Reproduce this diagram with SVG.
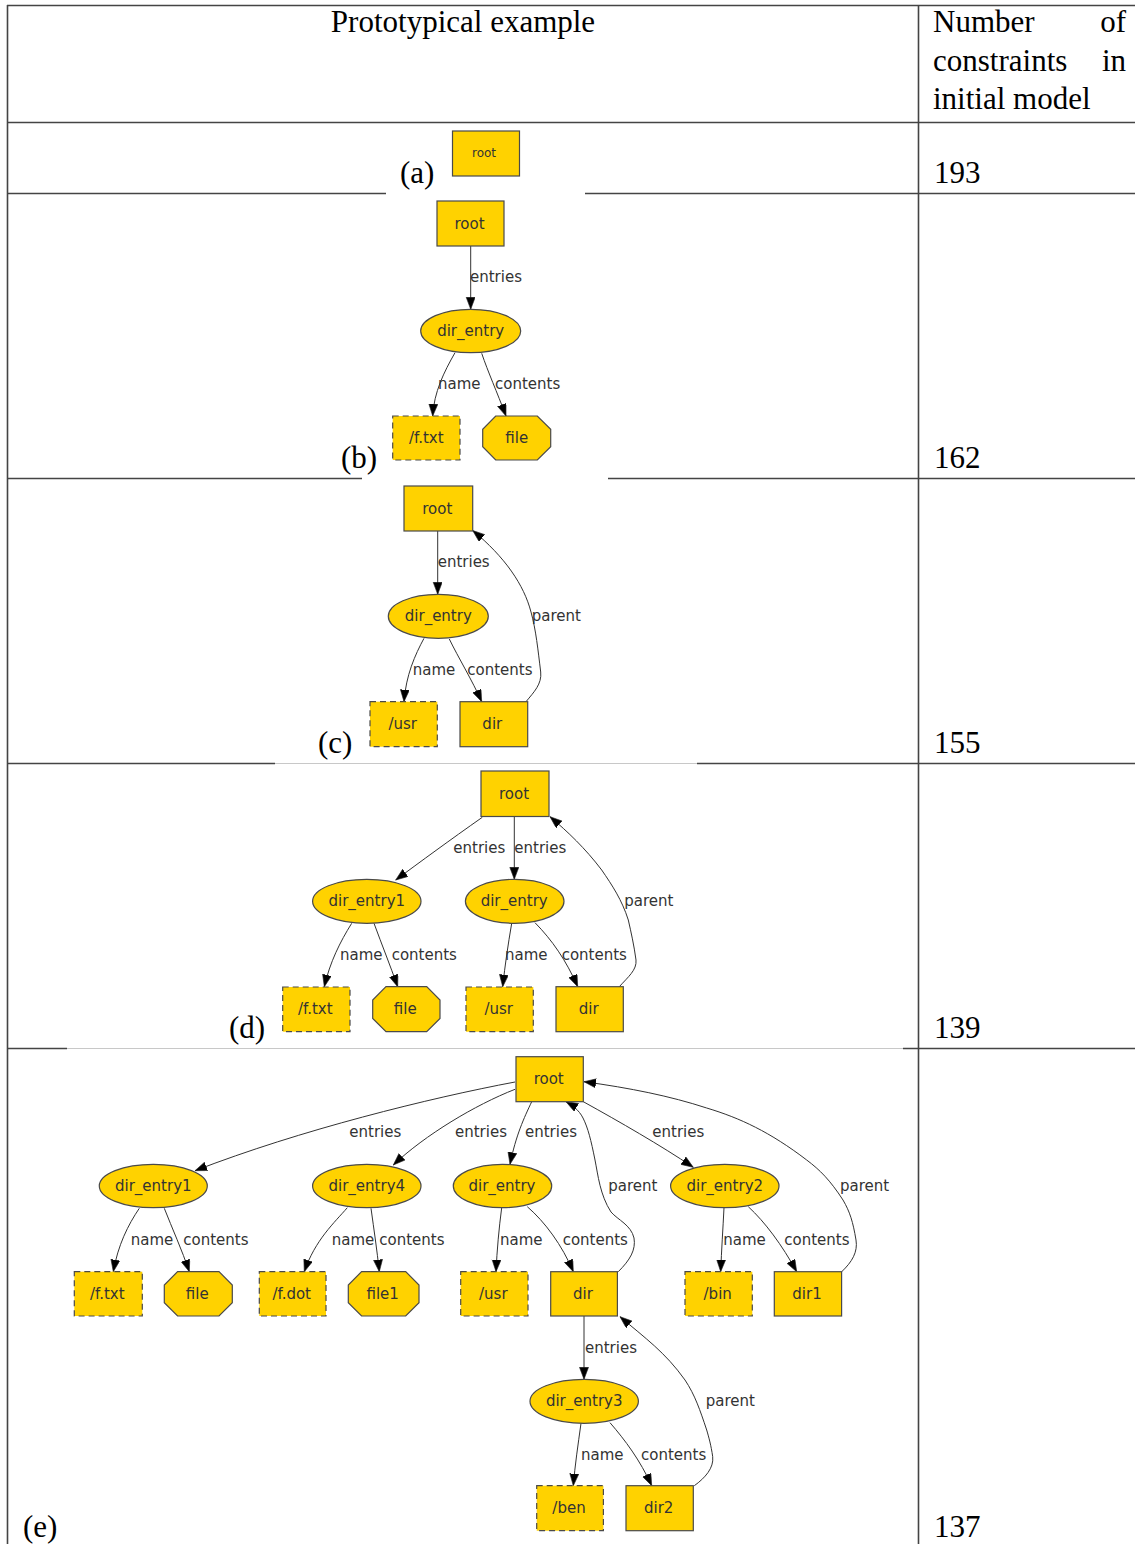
<svg xmlns="http://www.w3.org/2000/svg" width="1135" height="1544" viewBox="0 0 1135 1544">
  <defs>
    <marker id="arrow" markerUnits="userSpaceOnUse" markerWidth="13" markerHeight="10" refX="12" refY="4.5" orient="auto">
      <path d="M0,0 L12,4.5 L0,9 z" fill="#000" stroke="#222" stroke-width="0.6"/>
    </marker>
  </defs>
  <style>
    .grid { stroke: #444; stroke-width: 1.6; fill: none; }
    .faint { stroke: #c8c8c8; stroke-width: 1.2; fill: none; }
    .cell { font-family: "Liberation Serif", "Times New Roman", serif; font-size: 31px; fill: #000; }
    .node rect, .node ellipse, .node polygon { fill: #ffd200; stroke: #4a4a4a; stroke-width: 1.2; }
    .node rect.str { stroke-dasharray: 6 4; }
    .node text { font-family: "DejaVu Sans", sans-serif; font-size: 15px; fill: #333; text-anchor: middle; }
    .edges path { fill: none; stroke: #333; stroke-width: 1; marker-end: url(#arrow); }
    .edges text { font-family: "DejaVu Sans", sans-serif; font-size: 15px; fill: #333; }
  </style>
  <rect width="1135" height="1544" fill="#fff"/>

  <!-- table rules -->
  <g id="table">
    <line class="grid" x1="7" y1="5.5" x2="1135" y2="5.5"/>
    <line class="grid" x1="7" y1="122.5" x2="1135" y2="122.5"/>
    <line class="grid" x1="7" y1="193.5" x2="386" y2="193.5"/>
    <line class="grid" x1="585" y1="193.5" x2="1135" y2="193.5"/>
    <line class="grid" x1="7" y1="478.5" x2="362" y2="478.5"/>
    <line class="grid" x1="608" y1="478.5" x2="1135" y2="478.5"/>
    <line class="grid" x1="7" y1="763.5" x2="275" y2="763.5"/>
    <line class="faint" x1="275" y1="763.5" x2="697" y2="763.5"/>
    <line class="grid" x1="697" y1="763.5" x2="1135" y2="763.5"/>
    <line class="grid" x1="7" y1="1048.5" x2="67" y2="1048.5"/>
    <line class="faint" x1="67" y1="1048.5" x2="903" y2="1048.5"/>
    <line class="grid" x1="903" y1="1048.5" x2="1135" y2="1048.5"/>
    <line class="grid" x1="7.5" y1="5" x2="7.5" y2="1544"/>
    <line class="grid" x1="918.5" y1="5" x2="918.5" y2="1544"/>
  </g>

  <!-- header and cell text -->
  <g id="cells" class="cell">
    <text x="463" y="32" text-anchor="middle">Prototypical example</text>
    <text x="933" y="32">Number</text>
    <text x="1126" y="32" text-anchor="end">of</text>
    <text x="933" y="71">constraints</text>
    <text x="1126" y="71" text-anchor="end">in</text>
    <text x="933" y="109">initial model</text>
    <text x="400" y="183">(a)</text>
    <text x="934" y="183">193</text>
    <text x="341" y="468">(b)</text>
    <text x="934" y="468">162</text>
    <text x="318" y="753">(c)</text>
    <text x="934" y="753">155</text>
    <text x="229" y="1038">(d)</text>
    <text x="934" y="1038">139</text>
    <text x="23" y="1537">(e)</text>
    <text x="934" y="1537">137</text>
  </g>

  <!-- connectors -->
  <g id="connectors" class="edges">
    <!-- (b) -->
    <path d="M470.7,246 L470.7,309.3"/>
    <path d="M455,352.7 C444,372 434,392 432.7,416"/>
    <path d="M481.7,353.3 C488,372 497,392 506,416"/>
    <text x="470" y="282">entries</text>
    <text x="438" y="389">name</text>
    <text x="495" y="389">contents</text>

    <!-- (c) -->
    <path d="M437.7,531 L437.7,594.3"/>
    <path d="M424,638.3 C415,655 406,675 404,701.7"/>
    <path d="M449.3,639 C458,657 472,680 481.7,701.7"/>
    <path d="M526,701.7 C534,692 542,684 540.7,672 C538,650 536,630 531,612 C524,585 505,557 472.7,530.5"/>
    <text x="437.7" y="567">entries</text>
    <text x="412.7" y="675">name</text>
    <text x="467.3" y="675">contents</text>
    <text x="531.7" y="621">parent</text>

    <!-- (d) -->
    <path d="M482.3,817.3 C450,840 420,862 395.7,880"/>
    <path d="M514.3,816.5 L514.3,879.3"/>
    <path d="M351.7,923.3 C340,942 330,962 324.3,986.7"/>
    <path d="M374,923.3 C382,945 390,965 397.7,986.7"/>
    <path d="M511.7,923.3 C508,945 505,965 502.7,986.7"/>
    <path d="M535,922.7 C552,940 566,960 577.7,986.7"/>
    <path d="M619.3,986.7 C628,977 637,970 636,960 C634,945 631,932 628.3,920 C622,900 612,885 601.7,870 C585,848 568,832 550,816.7"/>
    <text x="453.3" y="852.5">entries</text>
    <text x="514.3" y="852.5">entries</text>
    <text x="340" y="960">name</text>
    <text x="391.7" y="960">contents</text>
    <text x="505" y="960">name</text>
    <text x="561.7" y="960">contents</text>
    <text x="624.3" y="906">parent</text>

    <!-- (e) -->
    <path d="M515,1082 C430,1098 300,1130 195,1170.7"/>
    <path d="M515,1089.3 C475,1105 425,1135 393.3,1165"/>
    <path d="M531.7,1101.7 C524,1118 516,1135 510,1164.3"/>
    <path d="M583.3,1101.7 C620,1122 660,1145 693.3,1167.3"/>
    <path d="M618.3,1271.7 C630,1260 636,1250 634,1238 C631,1225 618,1220 611,1212 C600,1195 598,1175 595,1160 C591,1140 588,1128 583,1118 C579,1110 572,1105 566,1101.7"/>
    <path d="M841.7,1271.7 C852,1262 858,1252 856,1240 C853,1222 850,1212 843,1200 C830,1180 820,1170 806.7,1160 C770,1132 740,1118 706.7,1108 C670,1096 630,1088 584,1081.7"/>
    <path d="M139.3,1208.3 C128,1225 118,1245 113.3,1271.7"/>
    <path d="M164.3,1208.3 C172,1228 182,1250 189.3,1271.7"/>
    <path d="M347.3,1207.7 C335,1222 315,1240 304.3,1271.7"/>
    <path d="M371,1208.3 C374,1230 377,1250 379.3,1271.7"/>
    <path d="M501.7,1207.7 C499,1228 497,1250 496,1271.7"/>
    <path d="M527.3,1206.7 C545,1222 562,1245 573.3,1271.7"/>
    <path d="M724,1207.7 C723,1228 721.5,1250 720.7,1271.7"/>
    <path d="M748.3,1206.7 C765,1222 782,1245 796.7,1271.7"/>
    <path d="M584,1316 L584,1379.3"/>
    <path d="M581,1423.3 C578,1445 575,1465 573.3,1485.7"/>
    <path d="M610,1422.7 C625,1440 640,1460 651.7,1485.7"/>
    <path d="M694.3,1485.7 C705,1478 714,1468 712.7,1456.7 C711,1445 709,1438 706.7,1430 C700,1410 695,1395 685,1380 C665,1352 645,1338 620,1316.7"/>
    <text x="349.3" y="1137">entries</text>
    <text x="455" y="1137">entries</text>
    <text x="525" y="1137">entries</text>
    <text x="652.3" y="1137">entries</text>
    <text x="608.3" y="1191">parent</text>
    <text x="840" y="1191">parent</text>
    <text x="130.7" y="1244.5">name</text>
    <text x="183.3" y="1244.5">contents</text>
    <text x="331.7" y="1244.5">name</text>
    <text x="379.3" y="1244.5">contents</text>
    <text x="500" y="1244.5">name</text>
    <text x="562.7" y="1244.5">contents</text>
    <text x="723.3" y="1244.5">name</text>
    <text x="784.3" y="1244.5">contents</text>
    <text x="585" y="1352.5">entries</text>
    <text x="705.7" y="1406">parent</text>
    <text x="581" y="1459.5">name</text>
    <text x="641" y="1459.5">contents</text>
  </g>

  <!-- (a) -->
  <g id="a-root" class="node">
    <rect x="452.5" y="131" width="67" height="45"/>
    <text x="484" y="157" style="font-size:12px">root</text>
  </g>

  <!-- (b) -->
  <g id="b-root" class="node">
    <rect x="437" y="201" width="67" height="45"/>
    <text x="469.5" y="228.5">root</text>
  </g>
  <g id="b-dir_entry" class="node">
    <ellipse cx="470.7" cy="331" rx="50" ry="21.7"/>
    <text x="470.7" y="336">dir_entry</text>
  </g>
  <g id="b-ftxt" class="node">
    <rect class="str" x="392.7" y="416" width="67.3" height="44"/>
    <text x="426.3" y="443">/f.txt</text>
  </g>
  <g id="b-file" class="node">
    <polygon points="495.7,416 537.3,416 550.7,429.3 550.7,446.7 537.3,460 495.7,460 482.7,446.7 482.7,429.3"/>
    <text x="516.7" y="443">file</text>
  </g>

  <!-- (c) -->
  <g id="c-root" class="node">
    <rect x="404" y="486" width="68.7" height="45"/>
    <text x="437.3" y="513.5">root</text>
  </g>
  <g id="c-dir_entry" class="node">
    <ellipse cx="438.3" cy="616.3" rx="50" ry="22"/>
    <text x="438.3" y="621.3">dir_entry</text>
  </g>
  <g id="c-usr" class="node">
    <rect class="str" x="370" y="701.7" width="67.3" height="45"/>
    <text x="402.7" y="729">/usr</text>
  </g>
  <g id="c-dir" class="node">
    <rect x="460" y="701.7" width="67.7" height="45"/>
    <text x="492.3" y="729">dir</text>
  </g>

  <!-- (d) -->
  <g id="d-root" class="node">
    <rect x="481" y="771" width="68" height="45.5"/>
    <text x="514" y="798.7">root</text>
  </g>
  <g id="d-dir_entry1" class="node">
    <ellipse cx="366.8" cy="901.3" rx="54.2" ry="22"/>
    <text x="366.8" y="906.3">dir_entry1</text>
  </g>
  <g id="d-dir_entry" class="node">
    <ellipse cx="514.7" cy="901.3" rx="49.3" ry="22"/>
    <text x="514.2" y="906.3">dir_entry</text>
  </g>
  <g id="d-ftxt" class="node">
    <rect class="str" x="282.7" y="987" width="67.3" height="44.7"/>
    <text x="315.3" y="1014">/f.txt</text>
  </g>
  <g id="d-file" class="node">
    <polygon points="386,986.7 426.7,986.7 440,1000 440,1018.4 426.7,1031.7 386,1031.7 372.7,1018.4 372.7,1000"/>
    <text x="405.3" y="1014">file</text>
  </g>
  <g id="d-usr" class="node">
    <rect class="str" x="466" y="987" width="67.3" height="44.7"/>
    <text x="498.7" y="1014">/usr</text>
  </g>
  <g id="d-dir" class="node">
    <rect x="556" y="986.7" width="67.3" height="45"/>
    <text x="588.7" y="1014">dir</text>
  </g>

  <!-- (e) -->
  <g id="e-root" class="node">
    <rect x="516" y="1056.7" width="67.3" height="45"/>
    <text x="548.7" y="1084">root</text>
  </g>
  <g id="e-dir_entry1" class="node">
    <ellipse cx="153.3" cy="1186" rx="54" ry="21.7"/>
    <text x="153.3" y="1191">dir_entry1</text>
  </g>
  <g id="e-dir_entry4" class="node">
    <ellipse cx="366.8" cy="1186" rx="54.2" ry="21.7"/>
    <text x="366.8" y="1191">dir_entry4</text>
  </g>
  <g id="e-dir_entry" class="node">
    <ellipse cx="502.5" cy="1186" rx="49.2" ry="21.7"/>
    <text x="502" y="1191">dir_entry</text>
  </g>
  <g id="e-dir_entry2" class="node">
    <ellipse cx="724.8" cy="1186" rx="54.2" ry="21.7"/>
    <text x="724.8" y="1191">dir_entry2</text>
  </g>
  <g id="e-ftxt" class="node">
    <rect class="str" x="74.3" y="1271.7" width="68" height="44.3"/>
    <text x="107.3" y="1298.8">/f.txt</text>
  </g>
  <g id="e-file" class="node">
    <polygon points="177.6,1271.7 219,1271.7 232.3,1285 232.3,1302.7 219,1316 177.6,1316 164.3,1302.7 164.3,1285"/>
    <text x="197.3" y="1298.8">file</text>
  </g>
  <g id="e-fdot" class="node">
    <rect class="str" x="259.3" y="1271.7" width="66.7" height="44.3"/>
    <text x="291.7" y="1298.8">/f.dot</text>
  </g>
  <g id="e-file1" class="node">
    <polygon points="361.6,1271.7 405.7,1271.7 419,1285 419,1302.7 405.7,1316 361.6,1316 348.3,1302.7 348.3,1285"/>
    <text x="382.7" y="1298.8">file1</text>
  </g>
  <g id="e-usr" class="node">
    <rect class="str" x="460.7" y="1271.7" width="67.3" height="44.3"/>
    <text x="493.3" y="1298.8">/usr</text>
  </g>
  <g id="e-dir" class="node">
    <rect x="550.7" y="1271.7" width="66.7" height="44.3"/>
    <text x="583" y="1298.8">dir</text>
  </g>
  <g id="e-bin" class="node">
    <rect class="str" x="685" y="1271.7" width="67.3" height="44.3"/>
    <text x="717.7" y="1298.8">/bin</text>
  </g>
  <g id="e-dir1" class="node">
    <rect x="774.3" y="1271.7" width="67.3" height="44.3"/>
    <text x="807" y="1298.8">dir1</text>
  </g>
  <g id="e-dir_entry3" class="node">
    <ellipse cx="584.2" cy="1401.3" rx="54.2" ry="22"/>
    <text x="584.2" y="1406.3">dir_entry3</text>
  </g>
  <g id="e-ben" class="node">
    <rect class="str" x="536.7" y="1485.7" width="66.7" height="45"/>
    <text x="569" y="1513">/ben</text>
  </g>
  <g id="e-dir2" class="node">
    <rect x="626" y="1485.7" width="67.3" height="45"/>
    <text x="658.7" y="1513">dir2</text>
  </g>
</svg>
